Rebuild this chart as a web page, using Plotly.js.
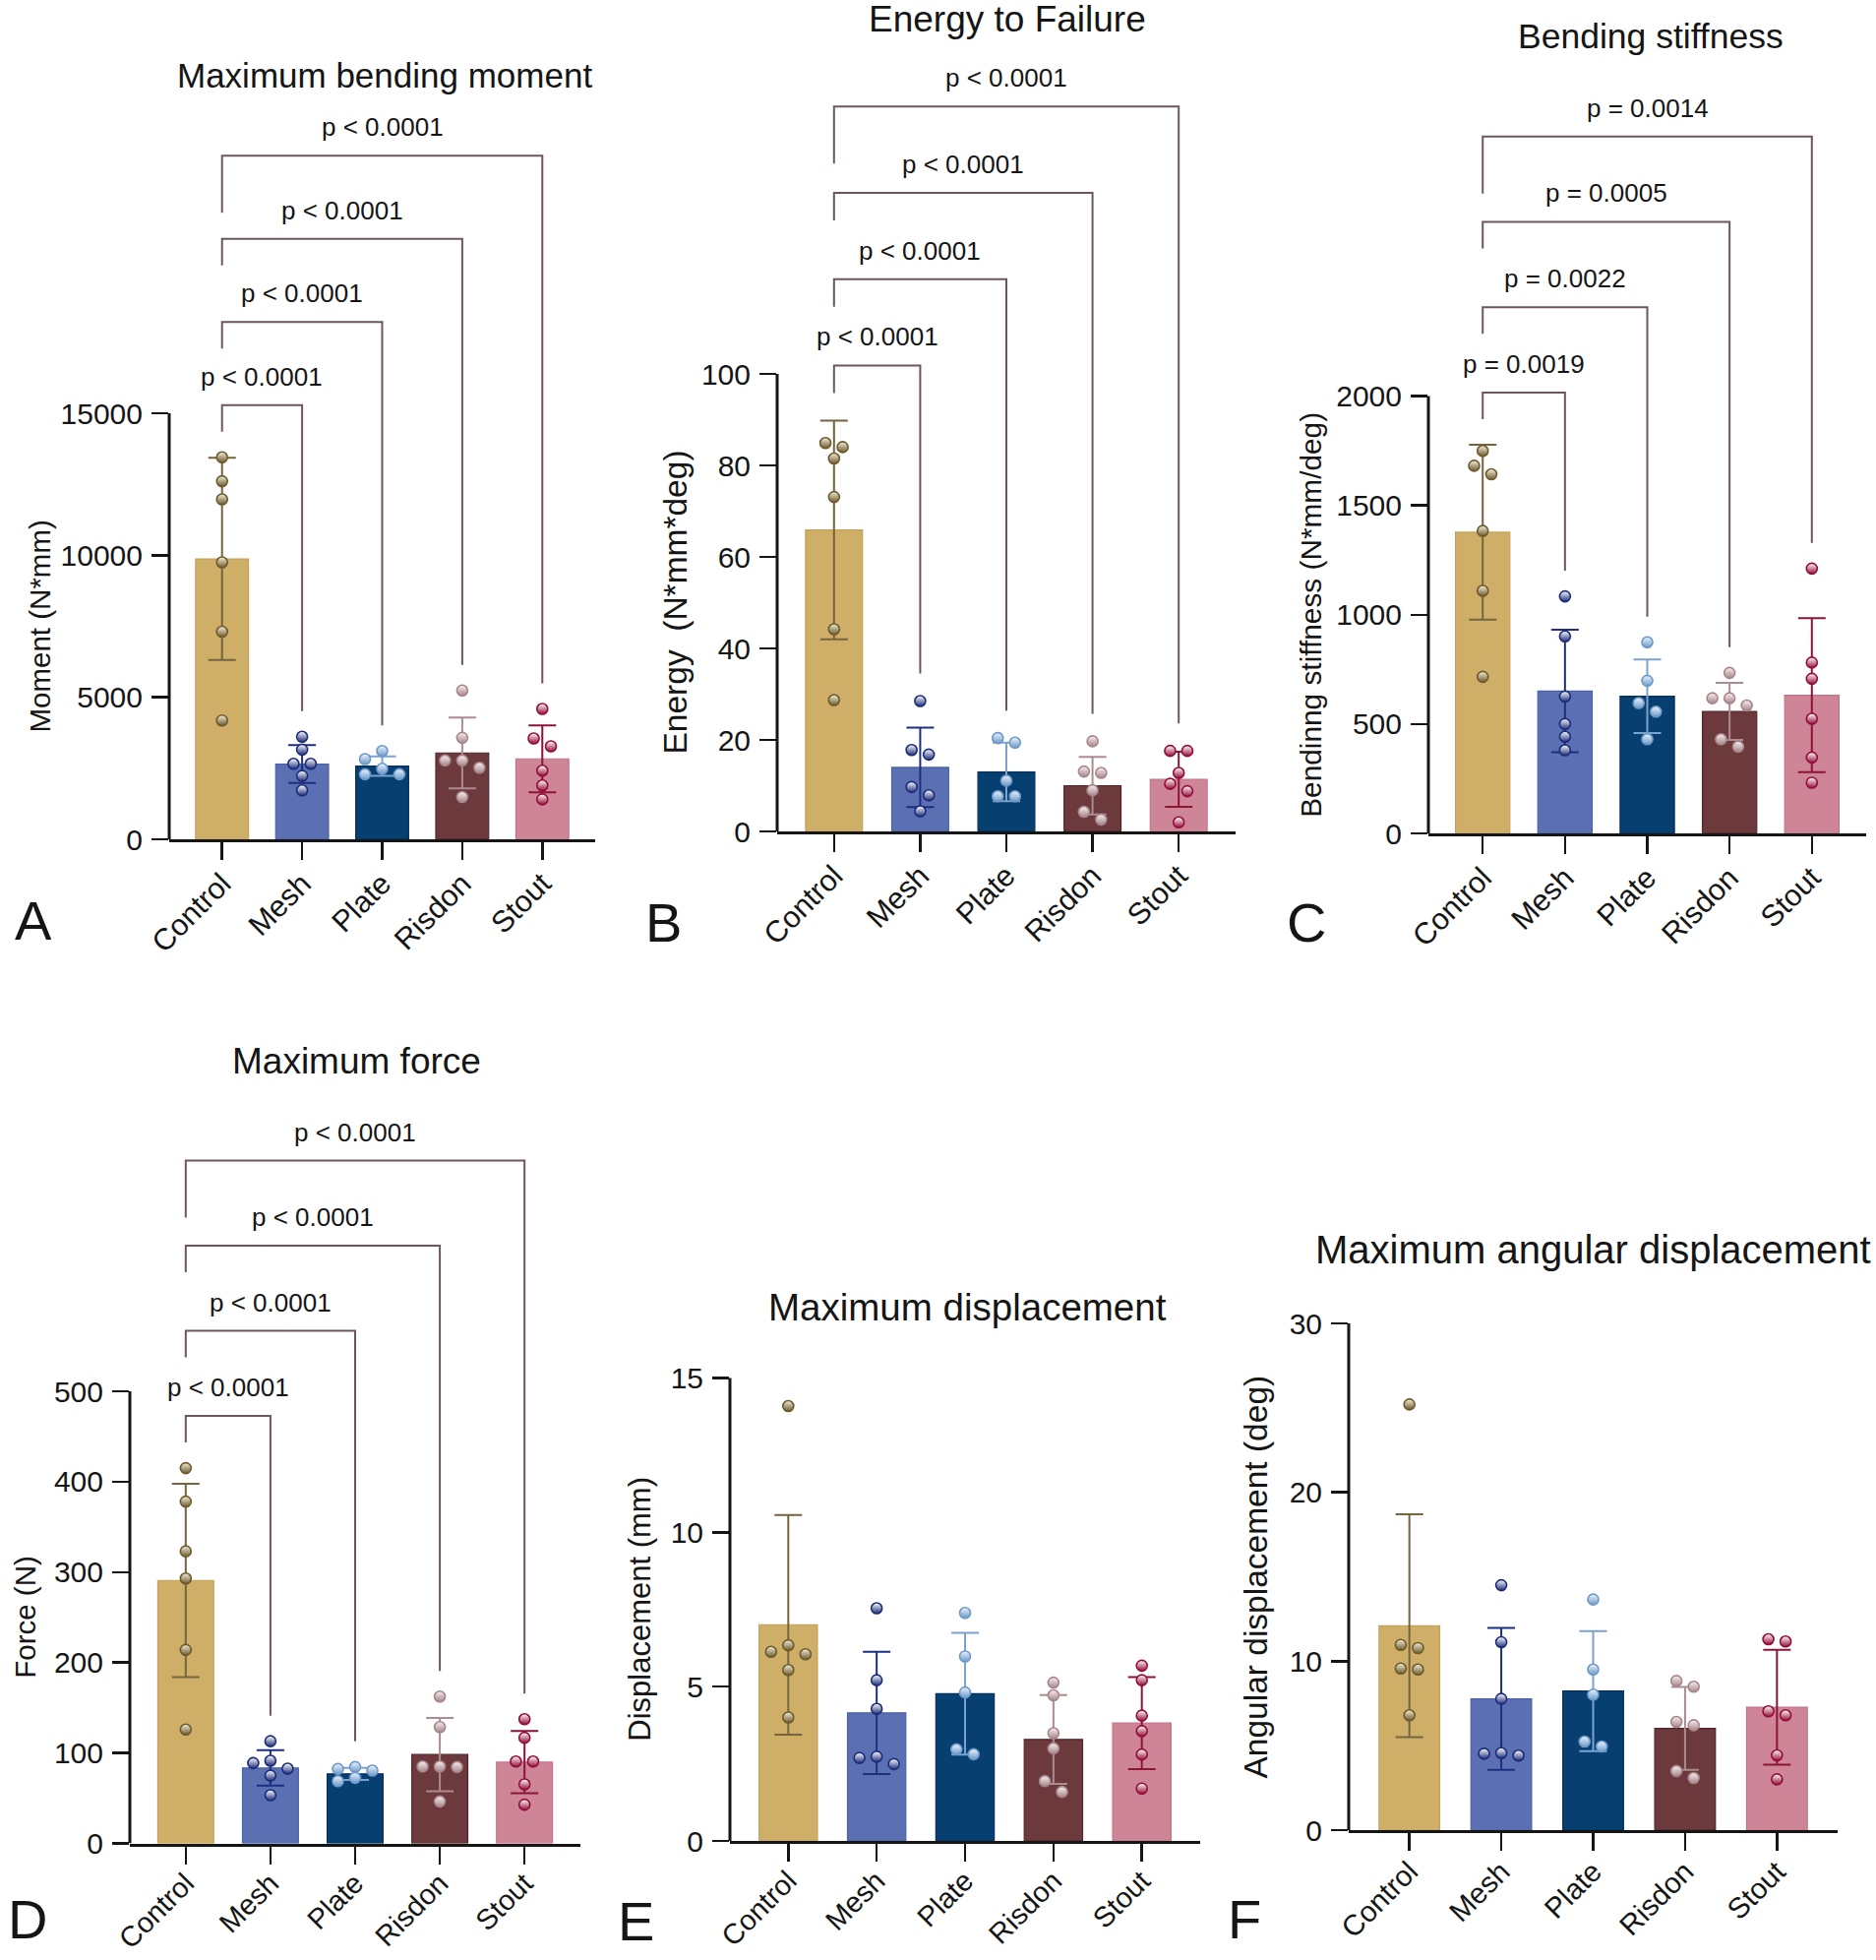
<!DOCTYPE html>
<html><head><meta charset="utf-8">
<script src="https://cdn.plot.ly/plotly-3.0.1.min.js"></script>
<style>html,body{margin:0;padding:0;background:#fff}#chart{width:1907px;height:1992px}</style>
</head><body><div id="chart"></div>
<script>
// ---------------- DATA ----------------
const categories = ['Control', 'Mesh', 'Plate', 'Risdon', 'Stout'];

const momentMean = [9870, 2648, 2578, 3040, 2832];
const momentSD = [3560, 665, 340, 1250, 1180];
const momentPoints = [[13450, 12607, 11970, 9750, 7308, 4185], [3609, 3158, 2659, 2659, 2231, 1721], [3109, 2821, 2485, 2290, 2290], [5240, 3574, 2776, 2776, 2519, 1492], [4591, 3550, 3272, 2415, 1895, 1409]];
const momentP = ['p &lt; 0.0001', 'p &lt; 0.0001', 'p &lt; 0.0001', 'p &lt; 0.0001'];
const momentTicks = [0, 5000, 10000, 15000];

const energyMean = [65.9, 14.0, 13.0, 10.0, 11.4];
const energySD = [23.9, 8.7, 6.4, 6.3, 6.0];
const energyPoints = [[84.9, 84.0, 81.5, 73.1, 44.2, 28.7], [28.5, 17.8, 16.8, 9.7, 7.9, 4.4], [20.4, 19.4, 11.1, 7.7, 7.7], [19.7, 13.1, 12.8, 9.0, 4.3, 2.6], [17.6, 17.6, 12.8, 10.4, 8.8, 2.0]];
const energyP = ['p &lt; 0.0001', 'p &lt; 0.0001', 'p &lt; 0.0001', 'p &lt; 0.0001'];
const energyTicks = [0, 20, 40, 60, 80, 100];

const stiffMean = [1377, 651, 627, 558, 632];
const stiffSD = [400, 280, 168, 130, 352];
const stiffPoints = [[1749, 1681, 1642, 1383, 1109, 716], [1084, 901, 626, 500, 442, 380], [874, 698, 596, 557, 431], [734, 618, 618, 585, 431, 397], [1211, 781, 707, 524, 347, 232]];
const stiffP = ['p = 0.0019', 'p = 0.0022', 'p = 0.0005', 'p = 0.0014'];
const stiffTicks = [0, 500, 1000, 1500, 2000];

const forceMean = [290.8, 83.4, 76.9, 98.3, 89.9];
const forceSD = [107, 19.6, 6.6, 40.5, 34.3];
const forcePoints = [[415, 378, 323, 293, 214, 126], [113, 91.4, 88.8, 82.7, 75, 53.3], [84.5, 82.3, 80.5, 72.5, 68.9], [162.4, 128.7, 85.2, 85.2, 84.5, 46.4], [137.4, 116.8, 90.6, 90.6, 65.3, 42.8]];
const forceP = ['p &lt; 0.0001', 'p &lt; 0.0001', 'p &lt; 0.0001', 'p &lt; 0.0001'];
const forceTicks = [0, 100, 200, 300, 400, 500];

const dispMean = [7.0, 4.15, 4.77, 3.29, 3.82];
const dispSD = [3.56, 1.98, 1.97, 1.44, 1.49];
const dispPoints = [[14.09, 6.34, 6.13, 6.05, 5.54, 4.0], [7.54, 5.21, 4.28, 2.73, 2.69, 2.49], [7.39, 5.98, 4.81, 2.97, 2.81], [5.13, 4.72, 3.49, 3.0, 1.94, 1.59], [5.68, 5.21, 4.06, 3.56, 2.80, 1.70]];
const dispTicks = [0, 5, 10, 15];

const angMean = [12.1, 7.77, 8.23, 6.02, 7.28];
const angSD = [6.6, 4.2, 3.55, 2.45, 3.4];
const angPoints = [[25.2, 10.97, 10.78, 9.57, 9.51, 6.8], [14.5, 11.13, 7.77, 4.56, 4.52, 4.41], [13.65, 9.51, 8.02, 5.24, 4.95], [8.83, 8.49, 6.41, 6.21, 3.5, 3.09], [11.3, 11.17, 7.03, 6.8, 4.43, 3.01]];
const angTicks = [0, 10, 20, 30];

// ---------------- STYLE / LAYOUT ----------------
const barColors = ['#cfae68', '#5b70b3', '#073f71', '#6c393d', '#ce8597'];
const barLines  = ['#c4a25b', '#4d61a3', '#04305a', '#4f2629', '#bf7588'];
const errColors = ['#75653f', '#1f2f80', '#7aa3cf', '#ab8c91', '#8c1537'];
const dotDark   = ['#6c5a2c', '#1b2b78', '#6b99c9', '#a7858a', '#940c39'];
const dotLight  = ['#f4eedc', '#ffffff', '#eef4fb', '#f8eff0', '#ffffff'];
const FONT = 'Liberation Sans, Arial, Helvetica, sans-serif';
const INK = '#151515';
const BRK = '#6e575b';
const W = 1907, H = 1992;

const panels = [
  {mean: momentMean, sd: momentSD, pts: momentPoints, p: momentP, ticks: momentTicks,
   xPx: [172, 605], y0: 853, yTop: 420, plotTop: 95, gap: 26, stub: 27, spacing: 84.5,
   xFont: 30.5, xStand: -6,
   title: 'Maximum bending moment', tSize: 35, tX: 391, tY: 76,
   yTitle: 'Moment (N*mm)', ytSize: 29.5, ytX: 40, letter: 'A', lX: 34, lY: 935},
  {mean: energyMean, sd: energySD, pts: energyPoints, p: energyP, ticks: energyTicks,
   xPx: [790, 1256], y0: 845, yTop: 380, plotTop: 45, gap: 28, stub: 28, spacing: 87.7,
   xFont: 30.5, xStand: -6,
   title: 'Energy to Failure', tSize: 37, tX: 1024, tY: 19,
   yTitle: 'Energy\u00a0 (N*mm*deg)', ytSize: 33.5, ytX: 686, letter: 'B', lX: 674, lY: 937},
  {mean: stiffMean, sd: stiffSD, pts: stiffPoints, p: stiffP, ticks: stiffTicks,
   xPx: [1452, 1897], y0: 847, yTop: 402.5, plotTop: 75, gap: 26, stub: 27, spacing: 86.8,
   xFont: 30.5, xStand: -6,
   title: 'Bending stiffness', tSize: 35.5, tX: 1678, tY: 37,
   yTitle: 'Bendinng stiffness (N*mm/deg)', ytSize: 29.8, ytX: 1333, letter: 'C', lX: 1328, lY: 937},
  {mean: forceMean, sd: forceSD, pts: forcePoints, p: forceP, ticks: forceTicks,
   xPx: [132, 590], y0: 1873.5, yTop: 1414, plotTop: 1105, gap: 26, stub: 27, spacing: 86.5,
   xFont: 29, xStand: -9,
   title: 'Maximum force', tSize: 37, tX: 362, tY: 1078,
   yTitle: 'Force (N)', ytSize: 29.5, ytX: 26, letter: 'D', lX: 28, lY: 1950},
  {mean: dispMean, sd: dispSD, pts: dispPoints, p: null, ticks: dispTicks,
   xPx: [742, 1220], y0: 1871, yTop: 1400.5, plotTop: 1380,
   xFont: 29, xStand: -9,
   title: 'Maximum displacement', tSize: 38.5, tX: 984, tY: 1328,
   yTitle: 'Displacement (mm)', ytSize: 31, ytX: 651, letter: 'E', lX: 646, lY: 1952},
  {mean: angMean, sd: angSD, pts: angPoints, p: null, ticks: angTicks,
   xPx: [1371, 1868], y0: 1860, yTop: 1345, plotTop: 1325,
   xFont: 29.5, xStand: -8,
   title: 'Maximum angular displacement', tSize: 40, tX: 1619, tY: 1270,
   yTitle: 'Angular displacement (deg)', ytSize: 33.5, ytX: 1276, letter: 'F', lX: 1265, lY: 1950}
];

const XPAD = 0.66, BARW = 0.66, DOT = 11, STEP = 17.5;
const TOPSTUB = 58, LABELUP = 29;

function jitter(vals, ppu, ppc) {
  const order = vals.map((v, i) => i).sort((a, b) => vals[b] - vals[a]);
  const clusters = []; let cur = [];
  order.forEach((i, k) => {
    if (k > 0 && (vals[order[k - 1]] - vals[i]) * ppu >= DOT) { clusters.push(cur); cur = []; }
    cur.push(i);
  });
  clusters.push(cur);
  const off = new Array(vals.length).fill(0);
  clusters.forEach(c => {
    if (c.length === 2) { off[c[0]] = -STEP / 2; off[c[1]] = STEP / 2; }
    else if (c.length > 2) {
      const placed = [];
      c.forEach(i => {
        for (const o of [0, -STEP, STEP, -2 * STEP, 2 * STEP]) {
          if (placed.every(p => Math.hypot(o - p.o, (vals[i] - vals[p.i]) * ppu) >= DOT - 0.01)) { off[i] = o; break; }
        }
        placed.push({i: i, o: off[i]});
      });
    }
  });
  return off.map(o => o / ppc);
}

const traces = [], shapes = [], annotations = [];
const layout = {
  width: W, height: H, margin: {l: 0, r: 0, t: 0, b: 0},
  paper_bgcolor: '#fff', plot_bgcolor: 'rgba(0,0,0,0)',
  showlegend: false, barmode: 'overlay',
  font: {family: FONT, color: INK}
};

panels.forEach((P, n) => {
  const sfx = n === 0 ? '' : String(n + 1);
  const xa = 'x' + sfx, ya = 'y' + sfx;
  const axisMax = P.ticks[P.ticks.length - 1];
  const ppu = (P.y0 - P.yTop) / axisMax;              // px per data unit
  const rangeMax = (P.y0 - P.plotTop) / ppu;
  const ppc = (P.xPx[1] - P.xPx[0]) / (4 + 2 * XPAD); // px per category
  const u = px => px / ppu;

  layout['xaxis' + sfx] = {
    domain: [P.xPx[0] / W, P.xPx[1] / W], anchor: ya,
    range: [-XPAD, 4 + XPAD], tickvals: [0, 1, 2, 3, 4], ticktext: categories,
    tickangle: -45, ticks: 'outside', ticklen: 18, tickwidth: 2.5, tickcolor: INK,
    showline: true, linewidth: 3, linecolor: INK, showgrid: false, zeroline: false,
    ticklabelstandoff: P.xStand,
    tickfont: {size: P.xFont, family: FONT, color: INK}, fixedrange: true
  };
  layout['yaxis' + sfx] = {
    domain: [1 - P.y0 / H, 1 - P.plotTop / H], anchor: xa,
    range: [0, rangeMax], tickvals: P.ticks, ticktext: P.ticks.map(String),
    ticks: 'outside', ticklen: 17, tickwidth: 2.5, tickcolor: INK,
    showline: false, showgrid: false, zeroline: false, ticklabelstandoff: 3,
    tickfont: {size: 30, family: FONT, color: INK}, fixedrange: true
  };
  shapes.push({type: 'line', xref: xa + ' domain', yref: ya, x0: 0, x1: 0, y0: 0, y1: axisMax,
    line: {color: INK, width: 3}});

  // bars with SD error bars
  categories.forEach((c, j) => {
    traces.push({
      type: 'bar', x: [j], y: [P.mean[j]], width: BARW, xaxis: xa, yaxis: ya,
      marker: {color: barColors[j], line: {color: barLines[j], width: 1.2}},
      error_y: {type: 'data', array: [P.sd[j]], visible: true, color: errColors[j], thickness: 2, width: 14},
      hoverinfo: 'skip'
    });
  });
  // individual points
  categories.forEach((c, j) => {
    const dx = jitter(P.pts[j], ppu, ppc);
    traces.push({
      type: 'scatter', mode: 'markers', xaxis: xa, yaxis: ya, cliponaxis: false,
      x: P.pts[j].map((v, k) => j + dx[k]), y: P.pts[j],
      marker: {size: DOT, color: dotLight[j], gradient: {type: 'vertical', color: dotDark[j]},
               line: {color: dotDark[j], width: 1.6}},
      hoverinfo: 'skip'
    });
  });

  // significance brackets
  if (P.p) {
    const top = j => Math.max(Math.max.apply(null, P.pts[j]), P.mean[j] + P.sd[j]);
    const ctrlEnd = top(0) + u(P.gap);
    const level1 = ctrlEnd + u(P.stub);
    P.p.forEach((txt, k) => {
      const t = k + 1;
      const lvl = level1 + k * u(P.spacing);
      const stubEnd = (k === P.p.length - 1) ? lvl - u(TOPSTUB) : lvl - u(P.stub);
      const legEnd = top(t) + u(P.gap);
      shapes.push({type: 'path', xref: xa, yref: ya,
        path: `M0,${stubEnd} L0,${lvl} L${t},${lvl} L${t},${legEnd}`,
        line: {color: BRK, width: 2}});
      annotations.push({xref: xa, yref: ya, x: t / 2, y: lvl + u(LABELUP), text: txt,
        showarrow: false, xanchor: 'center', yanchor: 'middle',
        font: {size: 26, family: FONT, color: INK}});
    });
  }

  // titles, axis titles, letters
  annotations.push({xref: 'paper', yref: 'paper', x: P.tX / W, y: 1 - P.tY / H, text: P.title,
    showarrow: false, xanchor: 'center', yanchor: 'middle', font: {size: P.tSize, family: FONT, color: INK}});
  annotations.push({xref: 'paper', yref: 'paper', x: P.ytX / W, y: 1 - ((P.y0 + P.yTop) / 2) / H,
    text: P.yTitle, textangle: -90, showarrow: false, xanchor: 'center', yanchor: 'middle',
    font: {size: P.ytSize, family: FONT, color: INK}});
  annotations.push({xref: 'paper', yref: 'paper', x: P.lX / W, y: 1 - P.lY / H, text: P.letter,
    showarrow: false, xanchor: 'center', yanchor: 'middle', font: {size: 56, family: FONT, color: INK}});
});

layout.shapes = shapes;
layout.annotations = annotations;
Plotly.newPlot('chart', traces, layout, {staticPlot: true, displayModeBar: false});
</script>
</body></html>
